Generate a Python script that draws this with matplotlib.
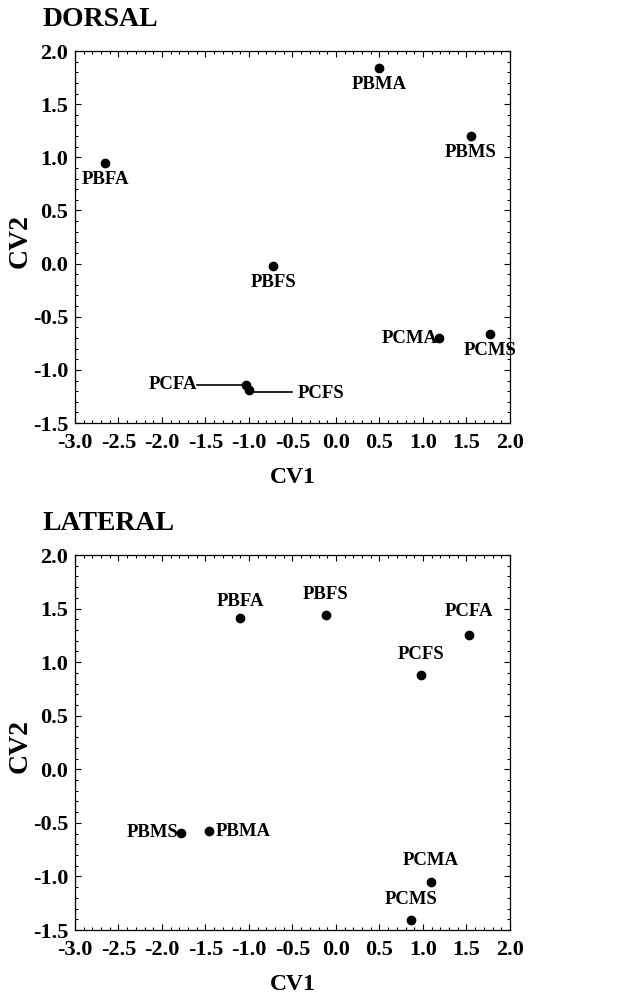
import numpy as np
import matplotlib
matplotlib.use("Agg")
from matplotlib import pyplot as plt
from matplotlib.ticker import MultipleLocator, FormatStrFormatter

plt.rcParams['font.family'] = ['Liberation Serif', 'DejaVu Serif']
plt.rcParams['font.weight'] = 'bold'

# dorsal view
dorsal_names = ["PBFA", "PBMA", "PBMS", "PBFS", "PCMA", "PCMS", "PCFA", "PCFS"]
dorsal_cv1 = [-2.65, 0.50, 1.55, -0.72, 1.18, 1.77, -1.03, -1.00]
dorsal_cv2 = [0.95, 1.84, 1.20, -0.02, -0.70, -0.66, -1.14, -1.19]

# lateral view
lateral_names = ["PBFA", "PBFS", "PCFA", "PCFS", "PBMS", "PBMA", "PCMA", "PCMS"]
lateral_cv1 = [-1.10, -0.12, 1.53, 0.98, -1.78, -1.46, 1.09, 0.86]
lateral_cv2 = [1.41, 1.44, 1.25, 0.88, -0.59, -0.58, -1.05, -1.41]

# label offsets (points) and alignment
dorsal_offsets = {
    "PBFA": ((0, -6), "center", "top"),
    "PBMA": ((0, -6), "center", "top"),
    "PBMS": ((0, -6), "center", "top"),
    "PBFS": ((0, -6), "center", "top"),
    "PCMA": ((-1, 0), "right", "center"),
    "PCMS": ((0, -6), "center", "top"),
}
lateral_offsets = {
    "PBFA": ((0, 6), "center", "bottom"),
    "PBFS": ((0, 9), "center", "bottom"),
    "PCFA": ((0, 11), "center", "bottom"),
    "PCFS": ((0, 9), "center", "bottom"),
    "PBMS": ((-2, 0), "right", "center"),
    "PBMA": ((5, 0), "left", "center"),
    "PCMA": ((0, 9), "center", "bottom"),
    "PCMS": ((0, 9), "center", "bottom"),
}

fig = plt.figure(figsize=(6.43, 10.01), dpi=100)
ax1 = fig.add_axes([0.1166, 0.5774, 0.6765, 0.3716])
ax2 = fig.add_axes([0.1166, 0.0709, 0.6765, 0.3746])


def style(ax, title):
    ax.set_xlim(-3.0, 2.0)
    ax.set_ylim(-1.5, 2.0)
    ax.xaxis.set_major_locator(MultipleLocator(0.5))
    ax.yaxis.set_major_locator(MultipleLocator(0.5))
    ax.xaxis.set_minor_locator(MultipleLocator(0.1))
    ax.yaxis.set_minor_locator(MultipleLocator(0.1))
    ax.xaxis.set_major_formatter(FormatStrFormatter('%.1f'))
    ax.yaxis.set_major_formatter(FormatStrFormatter('%.1f'))
    ax.tick_params(which='both', direction='in', top=True, right=True,
                   labeltop=False, labelright=False, labelsize=16, width=0.8)
    ax.tick_params(which='major', length=4)
    ax.tick_params(which='minor', length=2)
    ax.tick_params(axis='x', which='major', pad=7)
    ax.tick_params(axis='y', which='major', pad=5)
    for t in ax.get_xticklabels() + ax.get_yticklabels():
        t.set_fontweight('bold')
    ax.set_xlabel("CV1", fontsize=17, fontweight='bold', labelpad=10)
    ax.set_ylabel("CV2", fontsize=20, fontweight='bold')
    ax.yaxis.set_label_coords(-0.097, 0.49)
    ax.text(-0.074, 1.05, title, transform=ax.transAxes, fontsize=20,
            fontweight='bold', ha='left', va='bottom')
    for s in ax.spines.values():
        s.set_linewidth(0.9)


style(ax1, "DORSAL")
style(ax2, "LATERAL")

ax1.plot(dorsal_cv1, dorsal_cv2, 'ko', markersize=6)
for n, x, y in zip(dorsal_names, dorsal_cv1, dorsal_cv2):
    if n in dorsal_offsets:
        off, ha, va = dorsal_offsets[n]
        ax1.annotate(n, (x, y), xytext=off, textcoords='offset points',
                     ha=ha, va=va, fontsize=13.5, fontweight='bold')

# leader lines for the overlapping PCFA / PCFS pair
i_fa = dorsal_names.index("PCFA")
i_fs = dorsal_names.index("PCFS")
ax1.plot([-1.6, dorsal_cv1[i_fa]], [dorsal_cv2[i_fa]] * 2, 'k-', lw=1.2)
ax1.text(-1.6, dorsal_cv2[i_fa], "PCFA", ha='right', va='center',
         fontsize=13.5, fontweight='bold')
ax1.plot([dorsal_cv1[i_fs], -0.5], [dorsal_cv2[i_fs] - 0.02] * 2, 'k-', lw=1.2)
ax1.text(-0.44, dorsal_cv2[i_fs] - 0.03, "PCFS", ha='left', va='center',
         fontsize=13.5, fontweight='bold')

ax2.plot(lateral_cv1, lateral_cv2, 'ko', markersize=6)
for n, x, y in zip(lateral_names, lateral_cv1, lateral_cv2):
    off, ha, va = lateral_offsets[n]
    ax2.annotate(n, (x, y), xytext=off, textcoords='offset points',
                 ha=ha, va=va, fontsize=13.5, fontweight='bold')

fig.savefig("out.png", dpi=100)
